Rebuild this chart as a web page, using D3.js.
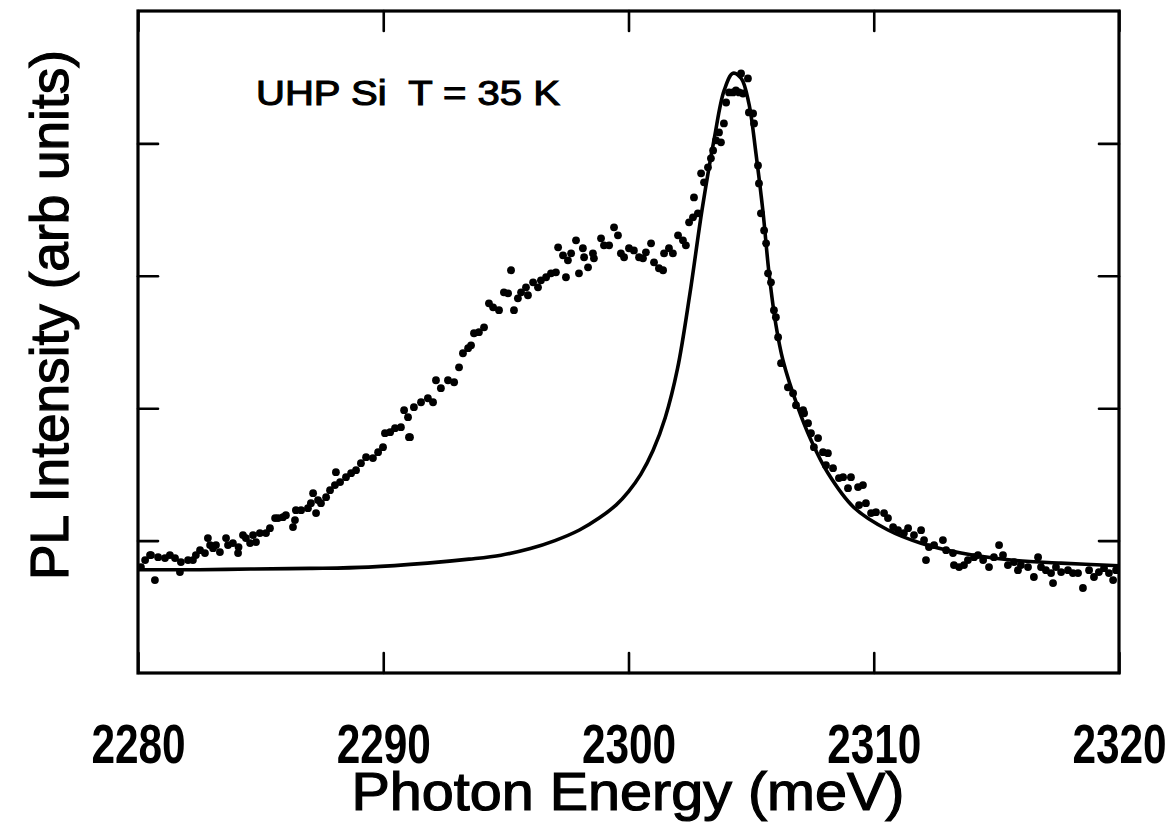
<!DOCTYPE html>
<html>
<head>
<meta charset="utf-8">
<script src="https://cdn.jsdelivr.net/npm/d3@7"></script>
<style>
  body { margin: 0; background: #fff; }
  svg { display: block; }
  text { font-family: "Liberation Sans", Arial, Helvetica, sans-serif; fill: #000; }
</style>
</head>
<body>
<svg id="chart" width="1172" height="823"></svg>
<script>
// Axis ranges and ticks
const energyRange = [2280, 2320];          // meV
const intensityRange = [0, 5];             // arb. units
const energyTicks = [2280, 2290, 2300, 2310, 2320];
const energyTickLabels = ["2280", "2290", "2300", "2310", "2320"];
const intensityTicks = [1, 2, 3, 4];

// Fitted line shape: [photon energy (meV), intensity]
const fitCurve = [
  [2280.0, 0.78], [2282.5, 0.78], [2284.6, 0.785], [2287.0, 0.79], [2289.4, 0.80],
  [2291.8, 0.83], [2293.5, 0.86], [2294.8, 0.89], [2296.0, 0.94], [2297.0, 1.00],
  [2298.0, 1.08], [2298.8, 1.17], [2299.5, 1.27], [2300.0, 1.37], [2300.5, 1.50],
  [2301.0, 1.68], [2301.5, 1.93], [2302.0, 2.30], [2302.5, 2.86], [2303.0, 3.50],
  [2303.5, 4.04], [2303.9, 4.40], [2304.26, 4.53], [2304.6, 4.49], [2304.91, 4.30],
  [2305.2, 3.92], [2305.48, 3.49], [2305.73, 3.02], [2306.01, 2.63], [2306.3, 2.36],
  [2306.9, 2.01], [2307.44, 1.76], [2308.13, 1.51], [2309.19, 1.25], [2310.58, 1.08],
  [2311.93, 0.98], [2313.56, 0.906], [2315.6, 0.853], [2317.63, 0.83], [2320.0, 0.81]
];

// Measured PL spectrum, low-energy side
const spectrumLow = [
  [2280.12, 0.80], [2280.29, 0.853], [2280.69, 0.702], [2280.49, 0.891], [2280.53, 0.891],
  [2280.82, 0.875], [2281.10, 0.868], [2281.30, 0.891], [2281.51, 0.868], [2281.71, 0.762],
  [2281.75, 0.838], [2282.04, 0.853], [2282.24, 0.853], [2282.36, 0.891], [2282.53, 0.928],
  [2282.73, 0.906], [2282.85, 1.019], [2282.94, 0.966], [2283.06, 0.943], [2283.18, 0.966],
  [2283.34, 0.913], [2283.59, 1.019], [2283.67, 0.966], [2283.87, 0.981], [2284.08, 0.906],
  [2284.10, 0.951], [2284.28, 1.042], [2284.40, 1.019], [2284.57, 0.981], [2284.69, 1.042],
  [2284.81, 0.989], [2284.97, 1.057], [2285.22, 1.057], [2285.38, 1.094], [2285.59, 1.170],
  [2285.71, 1.170], [2285.91, 1.177], [2286.03, 1.192], [2286.32, 1.102], [2286.40, 1.155],
  [2286.44, 1.230], [2286.65, 1.230], [2286.93, 1.245], [2287.05, 1.283], [2287.14, 1.358],
  [2287.26, 1.208], [2287.34, 1.306], [2287.46, 1.283], [2287.67, 1.328], [2287.83, 1.381],
  [2288.03, 1.419], [2288.07, 1.517], [2288.24, 1.442], [2288.48, 1.479], [2288.69, 1.509],
  [2288.89, 1.532], [2289.09, 1.585], [2289.30, 1.630], [2289.58, 1.623], [2289.79, 1.668],
  [2289.99, 1.706], [2290.07, 1.811], [2290.28, 1.819], [2290.48, 1.849], [2290.72, 1.857],
  [2291.09, 1.781]
];

// Measured PL spectrum, shoulder region
const spectrumShoulder = [
  [2290.85, 1.985], [2291.01, 1.932], [2291.05, 1.781], [2291.25, 2.008], [2291.54, 2.045],
  [2291.82, 2.075], [2292.03, 2.045], [2292.15, 2.211], [2292.35, 2.151], [2292.64, 2.211],
  [2292.89, 2.196], [2293.09, 2.309], [2293.25, 2.415], [2293.46, 2.453], [2293.58, 2.475],
  [2293.70, 2.566], [2293.90, 2.574], [2294.11, 2.611], [2294.31, 2.792], [2294.48, 2.762],
  [2294.72, 2.740], [2294.92, 2.875], [2295.09, 2.868], [2295.21, 3.042], [2295.33, 2.740],
  [2295.49, 2.830], [2295.62, 2.875], [2295.82, 2.913], [2295.90, 2.853], [2296.11, 2.951],
  [2296.31, 2.913], [2296.43, 2.966], [2296.64, 2.989], [2296.84, 3.019], [2297.04, 3.026],
  [2297.13, 3.215], [2297.33, 3.155], [2297.45, 2.989], [2297.53, 3.117], [2297.66, 3.170],
  [2297.86, 3.268], [2297.98, 3.019], [2298.14, 3.208], [2298.19, 3.140], [2298.35, 3.064],
  [2298.55, 3.170], [2298.59, 3.132], [2298.88, 3.283], [2299.00, 3.230], [2299.21, 3.230],
  [2299.41, 3.366], [2299.57, 3.306], [2299.69, 3.170], [2299.82, 3.140], [2300.02, 3.208],
  [2300.22, 3.192], [2300.43, 3.140], [2300.59, 3.132], [2300.71, 3.177], [2300.92, 3.245],
  [2301.04, 3.102], [2301.24, 3.057], [2301.41, 3.042], [2301.45, 3.170], [2301.65, 3.208],
  [2301.81, 3.170], [2302.02, 3.306], [2302.22, 3.268], [2302.34, 3.230], [2302.47, 3.404]
];

// Measured PL spectrum, main peak
const spectrumPeak = [
  [2302.63, 3.442], [2302.67, 3.592], [2302.83, 3.472], [2302.96, 3.774], [2303.08, 3.706],
  [2303.24, 3.819], [2303.36, 3.887], [2303.45, 3.947], [2303.57, 4.023], [2303.69, 4.083],
  [2303.77, 4.008], [2303.89, 4.151], [2303.98, 4.309], [2304.10, 4.385], [2304.26, 4.385],
  [2304.38, 4.400], [2304.51, 4.385], [2304.59, 4.528], [2304.67, 4.377], [2304.87, 4.491],
  [2304.91, 4.234], [2305.08, 4.226], [2305.12, 4.151], [2305.28, 3.834], [2305.32, 3.698],
  [2305.40, 3.472], [2305.53, 3.343], [2305.61, 3.245], [2305.69, 3.019], [2305.81, 2.951],
  [2305.93, 2.740], [2306.01, 2.687], [2306.10, 2.536], [2306.22, 2.340]
];

// Measured PL spectrum, high-energy tail
const spectrumTail = [
  [2306.50, 2.158], [2306.71, 2.113], [2306.83, 2.023], [2307.12, 1.985], [2307.16, 1.962],
  [2307.32, 1.887], [2307.44, 1.811], [2307.73, 1.774], [2307.56, 1.706], [2307.93, 1.668],
  [2308.13, 1.660], [2308.05, 1.570], [2308.34, 1.547], [2308.58, 1.472], [2308.75, 1.479],
  [2309.07, 1.479], [2308.95, 1.396], [2309.36, 1.404], [2309.56, 1.419], [2309.40, 1.268],
  [2309.68, 1.283], [2309.89, 1.208], [2310.09, 1.215], [2310.42, 1.208], [2310.58, 1.170],
  [2310.79, 1.102], [2310.99, 1.079], [2311.23, 1.057], [2311.40, 1.094], [2311.64, 1.042],
  [2311.93, 1.079], [2312.05, 1.004], [2312.13, 0.853], [2312.25, 0.951], [2312.46, 0.966],
  [2312.82, 1.004], [2312.95, 0.928], [2313.23, 0.906], [2313.27, 0.815], [2313.48, 0.800],
  [2313.68, 0.815], [2313.84, 0.853], [2314.09, 0.875], [2314.25, 0.891], [2314.46, 0.853],
  [2314.70, 0.800], [2314.90, 0.875], [2315.11, 0.966], [2315.27, 0.891], [2315.47, 0.815],
  [2315.72, 0.838], [2315.88, 0.777], [2316.00, 0.815], [2316.29, 0.800], [2316.53, 0.725],
  [2316.70, 0.875], [2316.82, 0.800], [2317.02, 0.777], [2317.23, 0.755], [2317.31, 0.679],
  [2317.43, 0.800], [2317.64, 0.762], [2317.92, 0.777], [2318.12, 0.755], [2318.33, 0.755],
  [2318.53, 0.642], [2318.78, 0.777], [2318.98, 0.725], [2319.18, 0.762], [2319.39, 0.792],
  [2319.59, 0.755], [2319.76, 0.702], [2319.88, 0.777]
];

const spectrum = [...spectrumLow, ...spectrumShoulder, ...spectrumPeak, ...spectrumTail];

// Layout
const plot = { left: 138, right: 1119, top: 11, bottom: 673 };
const svg = d3.select("#chart");

const x = d3.scaleLinear().domain(energyRange).range([plot.left, plot.right]);
const y = d3.scaleLinear().domain(intensityRange).range([plot.bottom, plot.top]);

// Inward ticks on all four sides
const tickLen = 20;
function styleAxis(g) {
  g.select(".domain").remove();
  g.selectAll(".tick line").attr("stroke", "#000").attr("stroke-width", 2.6).attr("stroke-linecap", "round");
}

const bottomAxis = svg.append("g")
  .attr("transform", `translate(0,${plot.bottom})`)
  .call(d3.axisBottom(x).tickValues(energyTicks).tickSize(-tickLen)
        .tickFormat((d, i) => energyTickLabels[i]))
  .call(styleAxis);
// Narrow, bold tick numerals
bottomAxis.selectAll(".tick text")
  .attr("y", 0).attr("dy", 0)
  .attr("transform", "translate(0,90) scale(0.77,1)")
  .attr("font-size", 55).attr("font-weight", "bold")
  .style("font-family", "'Liberation Sans', Arial, sans-serif")
  .attr("fill", "#000");

svg.append("g")
  .attr("transform", `translate(0,${plot.top})`)
  .call(d3.axisTop(x).tickValues(energyTicks).tickSize(-tickLen).tickFormat(""))
  .call(styleAxis);

svg.append("g")
  .attr("transform", `translate(${plot.left},0)`)
  .call(d3.axisLeft(y).tickValues(intensityTicks).tickSize(-tickLen).tickFormat(""))
  .call(styleAxis);

svg.append("g")
  .attr("transform", `translate(${plot.right},0)`)
  .call(d3.axisRight(y).tickValues(intensityTicks).tickSize(-tickLen).tickFormat(""))
  .call(styleAxis);

// Frame
svg.append("rect")
  .attr("x", plot.left).attr("y", plot.top)
  .attr("width", plot.right - plot.left).attr("height", plot.bottom - plot.top)
  .attr("fill", "none").attr("stroke", "#000").attr("stroke-width", 3.2);

// Fitted curve
const line = d3.line()
  .x(d => x(d[0])).y(d => y(d[1]))
  .curve(d3.curveCatmullRom.alpha(0.5));
svg.append("path")
  .datum(fitCurve)
  .attr("d", line)
  .attr("fill", "none").attr("stroke", "#000").attr("stroke-width", 3.6)
  .attr("stroke-linejoin", "round");

// Measured points
svg.append("g").selectAll("circle")
  .data(spectrum)
  .join("circle")
  .attr("cx", d => x(d[0]))
  .attr("cy", d => y(d[1]))
  .attr("r", 3.9)
  .attr("fill", "#000");

// Sample label
svg.append("text")
  .attr("x", 256).attr("y", 105)
  .attr("font-size", 35)
  .attr("textLength", 304).attr("lengthAdjust", "spacingAndGlyphs")
  .attr("stroke", "#000").attr("stroke-width", 1.1)
  .style("white-space", "pre")
  .text("UHP Si  T = 35 K");

// Axis titles
svg.append("text")
  .attr("x", (plot.left + plot.right) / 2 - 0.5).attr("y", 810)
  .attr("text-anchor", "middle")
  .attr("font-size", 53)
  .attr("textLength", 553).attr("lengthAdjust", "spacingAndGlyphs")
  .attr("stroke", "#000").attr("stroke-width", 1.2)
  .text("Photon Energy (meV)");

svg.append("text")
  .attr("transform", "translate(68,315) rotate(-90)")
  .attr("text-anchor", "middle")
  .attr("font-size", 54)
  .attr("textLength", 530).attr("lengthAdjust", "spacingAndGlyphs")
  .attr("stroke", "#000").attr("stroke-width", 1.2)
  .text("PL Intensity (arb units)");
</script>
</body>
</html>
